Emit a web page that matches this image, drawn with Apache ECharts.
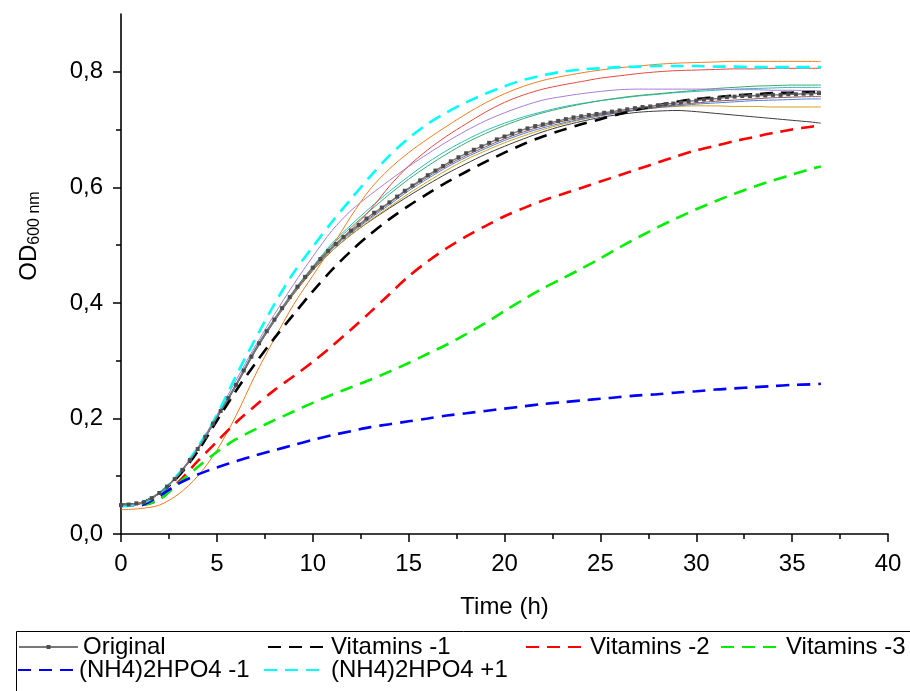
<!DOCTYPE html>
<html>
<head>
<meta charset="utf-8">
<script src="https://cdn.jsdelivr.net/npm/echarts@6/dist/echarts.min.js"></script>
<style>html,body{margin:0;padding:0;background:#fff}#c{width:910px;height:691px}</style>
</head>
<body>
<div id="c"></div>
<script>
// ---- data ----
const hours = [0,1,2,3,4,5,6,7,8,9,10,11,12,13,14,15,16,17,18,19,20,21,22,23,24,25,26,27,28,29,30,31,32,33,34,35,36,36.5];
const timesOriginal = [0,0.4,0.8,1.2,1.6,2,2.4,2.8,3.2,3.6,4,4.4,4.8,5.2,5.6,6,6.4,6.8,7.2,7.6,8,8.4,8.8,9.2,9.6,10,10.4,10.8,11.2,11.6,12,12.4,12.8,13.2,13.6,14,14.4,14.8,15.2,15.6,16,16.4,16.8,17.2,17.6,18,18.4,18.8,19.2,19.6,20,20.4,20.8,21.2,21.6,22,22.4,22.8,23.2,23.6,24,24.4,24.8,25.2,25.6,26,26.4,26.8,27.2,27.6,28,28.4,28.8,29.2,29.6,30,30.4,30.8,31.2,31.6,32,32.4,32.8,33.2,33.6,34,34.4,34.8,35.2,35.6,36,36.4];
const original = [0.050,0.051,0.053,0.055,0.062,0.071,0.082,0.095,0.111,0.128,0.147,0.168,0.191,0.213,0.235,0.258,0.283,0.307,0.330,0.351,0.371,0.391,0.410,0.428,0.445,0.461,0.476,0.490,0.502,0.514,0.525,0.535,0.546,0.556,0.565,0.574,0.584,0.594,0.603,0.612,0.621,0.629,0.637,0.645,0.652,0.659,0.665,0.671,0.677,0.683,0.688,0.693,0.698,0.702,0.706,0.709,0.712,0.715,0.718,0.721,0.723,0.725,0.727,0.729,0.731,0.733,0.735,0.737,0.739,0.740,0.742,0.744,0.745,0.747,0.749,0.750,0.752,0.753,0.754,0.756,0.757,0.758,0.758,0.759,0.759,0.760,0.760,0.761,0.761,0.762,0.762,0.763];
const vitamins1 = [0.05,0.053,0.07,0.1,0.143,0.196,0.248,0.295,0.339,0.38,0.42,0.457,0.49,0.519,0.545,0.568,0.589,0.609,0.627,0.644,0.66,0.675,0.688,0.699,0.709,0.718,0.727,0.735,0.742,0.748,0.753,0.756,0.759,0.761,0.763,0.764,0.765,0.765];
const vitamins2 = [0.05,0.05,0.06,0.09,0.126,0.16,0.193,0.222,0.249,0.273,0.298,0.325,0.354,0.384,0.415,0.446,0.472,0.495,0.515,0.533,0.55,0.564,0.577,0.588,0.599,0.61,0.621,0.632,0.643,0.654,0.664,0.672,0.68,0.687,0.694,0.7,0.705,0.707];
const vitamins3 = [0.05,0.05,0.06,0.088,0.116,0.142,0.164,0.181,0.197,0.212,0.227,0.241,0.254,0.267,0.281,0.296,0.312,0.328,0.346,0.365,0.386,0.406,0.425,0.442,0.459,0.477,0.496,0.514,0.531,0.547,0.562,0.576,0.589,0.601,0.612,0.622,0.632,0.636];
const nh4Minus1 = [0.05,0.05,0.066,0.087,0.103,0.115,0.126,0.136,0.145,0.154,0.163,0.171,0.178,0.185,0.19,0.195,0.2,0.205,0.209,0.213,0.217,0.221,0.225,0.228,0.231,0.234,0.237,0.24,0.242,0.245,0.247,0.25,0.252,0.254,0.256,0.258,0.259,0.26];
const nh4Plus1 = [0.048,0.052,0.07,0.104,0.15,0.206,0.274,0.337,0.398,0.452,0.497,0.54,0.58,0.619,0.655,0.685,0.71,0.73,0.747,0.762,0.775,0.786,0.794,0.8,0.804,0.806,0.808,0.809,0.81,0.81,0.81,0.809,0.809,0.808,0.808,0.808,0.808,0.808];
// unlabelled thin runs
const runBlack = [0.049,0.052,0.07,0.102,0.146,0.2,0.256,0.316,0.368,0.415,0.456,0.49,0.518,0.542,0.564,0.585,0.605,0.624,0.641,0.657,0.671,0.684,0.696,0.706,0.714,0.721,0.726,0.73,0.732,0.733,0.731,0.728,0.725,0.722,0.719,0.716,0.713,0.711];
const runOrange = [0.042,0.044,0.05,0.069,0.1,0.145,0.205,0.275,0.338,0.397,0.447,0.497,0.55,0.597,0.632,0.66,0.684,0.706,0.727,0.746,0.762,0.775,0.785,0.792,0.798,0.803,0.807,0.81,0.813,0.815,0.816,0.817,0.818,0.818,0.818,0.818,0.818,0.818];
const runRed = [0.05,0.053,0.071,0.103,0.147,0.202,0.258,0.318,0.37,0.418,0.46,0.496,0.527,0.561,0.602,0.637,0.665,0.689,0.71,0.73,0.747,0.76,0.77,0.777,0.783,0.789,0.793,0.797,0.8,0.802,0.803,0.804,0.805,0.805,0.806,0.806,0.806,0.806];
const runPurple = [0.05,0.053,0.071,0.104,0.15,0.206,0.266,0.325,0.38,0.432,0.48,0.525,0.56,0.587,0.612,0.636,0.658,0.679,0.698,0.715,0.729,0.741,0.751,0.757,0.762,0.766,0.769,0.77,0.77,0.77,0.77,0.77,0.769,0.769,0.768,0.768,0.767,0.767];
const runGreen = [0.05,0.054,0.072,0.104,0.148,0.203,0.259,0.32,0.372,0.42,0.462,0.5,0.531,0.56,0.588,0.614,0.637,0.658,0.677,0.693,0.707,0.719,0.729,0.737,0.744,0.75,0.755,0.759,0.762,0.765,0.768,0.771,0.773,0.775,0.776,0.777,0.777,0.777];
const runTeal = [0.05,0.054,0.072,0.104,0.148,0.203,0.26,0.321,0.373,0.421,0.463,0.503,0.535,0.565,0.593,0.619,0.643,0.664,0.682,0.698,0.711,0.722,0.731,0.739,0.745,0.75,0.754,0.758,0.761,0.764,0.766,0.768,0.77,0.771,0.772,0.773,0.773,0.773];
const runBrown = [0.05,0.053,0.07,0.102,0.146,0.201,0.257,0.318,0.37,0.418,0.459,0.495,0.523,0.548,0.573,0.597,0.618,0.638,0.655,0.67,0.684,0.696,0.706,0.714,0.72,0.726,0.731,0.735,0.739,0.743,0.746,0.749,0.751,0.753,0.755,0.756,0.757,0.757];
const runBlue = [0.05,0.053,0.07,0.102,0.146,0.201,0.257,0.317,0.369,0.417,0.458,0.493,0.521,0.546,0.57,0.594,0.615,0.635,0.652,0.667,0.681,0.693,0.703,0.711,0.718,0.724,0.729,0.734,0.738,0.741,0.744,0.746,0.748,0.75,0.751,0.752,0.753,0.753];
const runGold = [0.05,0.053,0.071,0.103,0.147,0.202,0.258,0.318,0.369,0.416,0.457,0.49,0.518,0.543,0.566,0.589,0.61,0.63,0.648,0.663,0.677,0.689,0.7,0.709,0.717,0.724,0.73,0.734,0.738,0.74,0.741,0.741,0.74,0.74,0.739,0.739,0.739,0.739];

const yTickValues = [0, 0.2, 0.4, 0.6, 0.8];
const yTickLabels = ['0,0', '0,2', '0,4', '0,6', '0,8'];
const yMinorTickValues = [0.1, 0.3, 0.5, 0.7];
const legendNames = ['Original', 'Vitamins -1', 'Vitamins -2', 'Vitamins -3', '(NH4)2HPO4 -1', '(NH4)2HPO4 +1'];

// ---- chart ----
const FONT = 'Liberation Sans, Arial, sans-serif';
const pair = (xs, ys) => xs.map((x, i) => [x, ys[i]]);
const chart = echarts.init(document.getElementById('c'), null, {renderer: 'canvas'});

const thin = (name, data, color) => ({
  name, type: 'line', data: pair(hours, data), symbol: 'none', showSymbol: false, smooth: 0.3,
  lineStyle: {color, width: 1}, itemStyle: {color}, z: 2, silent: true
});
const dashed = (name, data, color) => ({
  name, type: 'line', data: pair(hours, data), symbol: 'none', showSymbol: false, smooth: 0.3,
  lineStyle: {color, width: 2.6, type: [13, 8]}, itemStyle: {color}, z: 4, silent: true
});

const legendPos = [
  {left: 18, top: 635, w: 59, h: 5},
  {left: 267, top: 635, w: 58, h: 10},
  {left: 525, top: 635, w: 59, h: 10},
  {left: 720, top: 635, w: 60, h: 10},
  {left: 17, top: 658, w: 56, h: 10},
  {left: 263, top: 658, w: 62, h: 10}
];

chart.setOption({
  animation: false,
  textStyle: {fontFamily: FONT},
  grid: {left: 121, right: 22, top: 14, bottom: 157, containLabel: false},
  xAxis: {
    type: 'value', min: 0, max: 40, interval: 5,
    name: 'Time (h)', nameLocation: 'middle', nameGap: 61,
    nameTextStyle: {fontSize: 24, color: '#000', fontFamily: FONT},
    axisLine: {show: true, onZero: false, lineStyle: {color: '#000', width: 1.6}},
    axisTick: {show: true, inside: false, length: 8, lineStyle: {color: '#000', width: 1.5}},
    minorTick: {show: true, splitNumber: 2, length: 5, lineStyle: {color: '#000', width: 1.5}},
    splitLine: {show: false},
    axisLabel: {fontSize: 24, color: '#000', margin: 18, fontFamily: FONT}
  },
  yAxis: [{
    type: 'value', min: 0, max: 0.9,
    name: 'OD{sub|600 nm}', nameLocation: 'middle', nameGap: 78, nameRotate: 90,
    nameTextStyle: {fontSize: 24, color: '#000', fontFamily: FONT, padding: [0, 0, 0, 76],
      rich: {sub: {fontSize: 16, color: '#000', fontFamily: FONT, padding: [12, 0, 0, 0]}}},
    axisLine: {show: true, onZero: false, lineStyle: {color: '#000', width: 1.6}},
    axisTick: {show: true, inside: false, length: 8, customValues: yTickValues, lineStyle: {color: '#000', width: 1.5}},
    axisLabel: {fontSize: 24, color: '#000', margin: 18, fontFamily: FONT, customValues: yTickValues,
      formatter: v => { const i = yTickValues.findIndex(t => Math.abs(t - v) < 1e-9); return i >= 0 ? yTickLabels[i] : ''; }},
    splitLine: {show: false}
  }, {
    type: 'value', min: 0, max: 0.9, position: 'left',
    axisLine: {show: false},
    axisTick: {show: true, inside: false, length: 5, customValues: yMinorTickValues, lineStyle: {color: '#000', width: 1.5}},
    axisLabel: {show: false},
    splitLine: {show: false}
  }],
  legend: legendNames.map((n, i) => ({
    data: [n], left: legendPos[i].left, top: legendPos[i].top, padding: 0, itemGap: 0,
    itemWidth: legendPos[i].w, itemHeight: legendPos[i].h, selectedMode: false,
    itemStyle: i === 0 ? {} : {opacity: 0},
    textStyle: {fontSize: 24, color: '#000', fontFamily: FONT}
  })),
  graphic: [{
    type: 'rect', silent: true,
    shape: {x: 16.5, y: 631.5, width: 900, height: 80},
    style: {fill: 'none', stroke: '#000', lineWidth: 1}
  }],
  series: [
    thin('Run 1', runBlack, '#3c3c3c'),
    thin('Run 2', runGold, '#d4a017'),
    thin('Run 3', runBlue, '#4a7fd4'),
    thin('Run 4', runBrown, '#8a5560'),
    thin('Run 5', runTeal, '#2bbdbd'),
    thin('Run 6', runGreen, '#3aa86b'),
    thin('Run 7', runPurple, '#a97ad9'),
    thin('Run 8', runRed, '#e8473f'),
    thin('Run 9', runOrange, '#f57a1f'),
    dashed('Vitamins -2', vitamins2, '#ff0000'),
    dashed('Vitamins -3', vitamins3, '#00ee00'),
    dashed('(NH4)2HPO4 -1', nh4Minus1, '#0000ff'),
    dashed('Vitamins -1', vitamins1, '#000000'),
    {
      name: 'Original', type: 'line', data: pair(timesOriginal, original),
      showSymbol: true, showAllSymbol: true, symbol: 'rect', symbolSize: 4,
      lineStyle: {color: '#777777', width: 1.4}, itemStyle: {color: '#4d4d4d'}, z: 5, silent: true
    },
    dashed('(NH4)2HPO4 +1', nh4Plus1, '#00ffff')
  ]
});
</script>
</body>
</html>
